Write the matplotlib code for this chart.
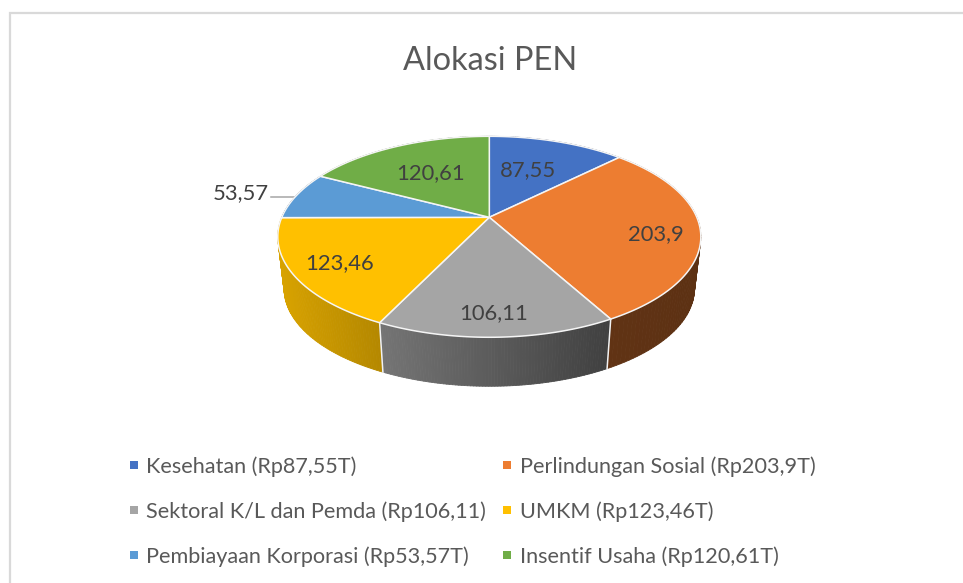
import numpy as np
import matplotlib
matplotlib.use("Agg")
import matplotlib.pyplot as plt
from matplotlib.collections import PolyCollection
from matplotlib.colors import to_rgb

title = "Alokasi PEN"
values = [87.55, 203.9, 106.11, 123.46, 53.57, 120.61]
value_labels = ["87,55", "203,9", "106,11", "123,46", "53,57", "120,61"]
legend_labels = ["Kesehatan (Rp87,55T)", "Perlindungan Sosial (Rp203,9T)",
                 "Sektoral K/L dan Pemda (Rp106,11)", "UMKM (Rp123,46T)",
                 "Pembiayaan Korporasi (Rp53,57T)", "Insentif Usaha (Rp120,61T)"]
colors = ["#4472C4", "#ED7D31", "#A5A5A5", "#FFC000", "#5B9BD5", "#70AD47"]
side_shade = [(.4, .4), (.41, .39), (.71, .39), (.85, .71), (.5, .5), (.5, .5)]
label_anchor_r = [.7, .7, .7, .7, 1.0, .7]
label_offset = [(-11, 8), (20, 7), (0, 18), (-17, 7), (-56, -2), (9, 8)]

plt.rcParams["font.family"] = ["Lato", "DejaVu Sans"]
fig = plt.figure(figsize=(9.63, 5.83), dpi=100)
ax = fig.add_axes([0, 0, 1, 1])
ax.set_xlim(0, 963)
ax.set_ylim(583, 0)
ax.axis("off")

CX, CY, A, B, K = 489.3, 217.3, 207.5, 96.7, .194
BOT_S, BOT_Y = .97, 269.9


def top(theta, r=1.0):
    u, v = r * np.sin(theta), -r * np.cos(theta)
    d = 1 - K * v
    return A * u / d, B * v / d


def pt_top(theta, r=1.0):
    x, y = top(theta, r)
    return np.column_stack([CX + x, CY + y])


def pt_bot(theta):
    x, y = top(theta)
    return np.column_stack([CX + BOT_S * x, BOT_Y + BOT_S * y])


edges = np.concatenate([[0], np.cumsum(values)]) / np.sum(values) * 2 * np.pi

# side wall, back to front, shaded left to right on screen
strips = []
for i in range(len(values)):
    th = np.linspace(edges[i], edges[i + 1], 80)
    t_pts, b_pts = pt_top(th), pt_bot(th)
    xmin, xmax = t_pts[:, 0].min(), t_pts[:, 0].max()
    for j in range(len(th) - 1):
        xf = (t_pts[j, 0] - xmin) / (xmax - xmin)
        s0, s1 = side_shade[i]
        sh = s0 + (s1 - s0) * xf
        c = tuple(np.array(to_rgb(colors[i])) * sh)
        quad = [t_pts[j], t_pts[j + 1], b_pts[j + 1], b_pts[j]]
        depth = -np.cos(th[j])
        strips.append((depth, quad, c))
strips.sort(key=lambda s: s[0])
ax.add_collection(PolyCollection([s[1] for s in strips], facecolors=[s[2] for s in strips],
                                 edgecolors=[s[2] for s in strips], linewidths=.6, zorder=2))

# seams on the side wall
for e in edges:
    if -np.cos(e) > 0.2:
        p, q = pt_top(np.array([e]))[0], pt_bot(np.array([e]))[0]
        ax.plot([p[0], q[0]], [p[1], q[1]], color="#F2F2F2", lw=1.1, zorder=3)

# top face
for i in range(len(values)):
    th = np.linspace(edges[i], edges[i + 1], 150)
    poly = np.vstack([[CX, CY], pt_top(th)])
    ax.fill(poly[:, 0], poly[:, 1], facecolor=colors[i], edgecolor="#F5F5F5", lw=1.1,
            joinstyle="round", zorder=4)

# data labels
for i, lab in enumerate(value_labels):
    mid = (edges[i] + edges[i + 1]) / 2
    p = pt_top(np.array([mid]), label_anchor_r[i])[0]
    dx, dy = label_offset[i]
    ax.text(p[0] + dx, p[1] + dy, lab, ha="center", va="center", fontsize=15.8,
            color="#404040", zorder=6)
    if label_anchor_r[i] == 1.0:
        ax.plot([p[0] - 26, p[0] - 1], [p[1] + 1.5, p[1] + 1.5], color="#A6A6A6", lw=1.1, zorder=3.5)

ax.text(490, 61, title, ha="center", va="center", fontsize=23.4, color="#595959")

# legend
rows_y = [465, 510, 555]
cols_x = [133.5, 507]
for i, lab in enumerate(legend_labels):
    x, y = cols_x[i % 2], rows_y[i // 2]
    ax.plot([x], [y], marker="s", ms=5.6, mew=0, color=colors[i], ls="none")
    ax.text(x + 13, y + 1.5, lab, ha="left", va="center", fontsize=15.6, color="#595959")

# frame of the chart
ax.plot([10, 10, 963], [583, 13, 13], color="#D9D9D9", lw=1.6, solid_joinstyle="miter")

fig.savefig("out.png", dpi=100)
